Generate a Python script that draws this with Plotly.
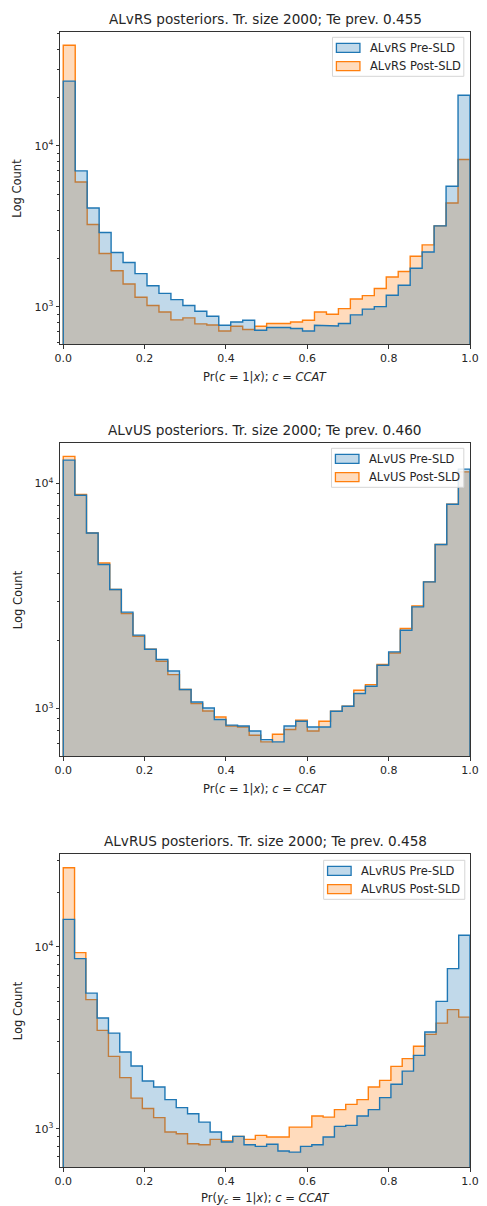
import plotly.graph_objects as go

# ---------------- data ----------------
titles = ["ALvRS posteriors. Tr. size 2000; Te prev. 0.455",
          "ALvUS posteriors. Tr. size 2000; Te prev. 0.460",
          "ALvRUS posteriors. Tr. size 2000; Te prev. 0.458"]
names = ["ALvRS", "ALvUS", "ALvRUS"]
xlabels = ["Pr(<i>c</i> = 1|<i>x</i>); <i>c</i> = <i>CCAT</i>",
           "Pr(<i>c</i> = 1|<i>x</i>); <i>c</i> = <i>CCAT</i>",
           "Pr(<i>y<sub>c</sub></i> = 1|<i>x</i>); <i>c</i> = <i>CCAT</i>"]

rs_pre = [25300, 7000, 4120, 2900, 2180, 1890, 1610, 1355, 1215, 1111, 1020, 940, 875, 769,
          807, 827, 716, 745, 745, 734, 709, 769, 762, 790, 893, 970, 1005, 1182, 1364, 1740,
          2197, 3190, 5620, 20650]
rs_post = [42200, 5970, 3250, 2147, 1680, 1390, 1150, 1020, 931, 831, 855, 785, 773, 709,
           759, 724, 759, 789, 789, 807, 827, 931, 901, 977, 1120, 1176, 1301, 1535, 1660, 2065,
           2430, 3190, 4425, 8240]

us_pre = [12700, 8870, 6030, 4365, 3383, 2684, 2120, 1835, 1652, 1469, 1215, 1070, 1006, 894,
          844, 837, 795, 728, 711, 837, 878, 828, 828, 973, 1024, 1166, 1256, 1557, 1786, 2228,
          2830, 3656, 5355, 8090, 11590]
us_post = [13200, 8930, 6030, 4436, 3383, 2642, 2096, 1835, 1623, 1416, 1215, 1052, 976, 918,
           837, 828, 761, 711, 769, 807, 887, 795, 878, 973, 1024, 1206, 1278, 1569, 1766, 2268,
           2860, 3656, 5355, 8090, 11270]

rus_pre = [14190, 8630, 5570, 4065, 3356, 2642, 2213, 1830, 1695, 1444, 1305, 1209, 1087, 958,
           844, 907, 816, 799, 820, 753, 743, 799, 816, 899, 1030, 1043, 1173, 1273, 1482, 1754,
           2074, 2530, 3403, 5020, 7600, 11590]
rus_post = [27300, 9310, 5130, 3474, 2500, 1910, 1472, 1290, 1150, 958, 938, 826, 816, 873,
            855, 907, 873, 919, 899, 899, 1020, 1020, 1173, 1158, 1273, 1361, 1444, 1695, 1845, 2203,
            2428, 2839, 3304, 3810, 4520, 4110]

pre_series = [rs_pre, us_pre, rus_pre]
post_series = [rs_post, us_post, rus_post]

x_ticks = [0.0, 0.2, 0.4, 0.6, 0.8, 1.0]
y_major = [1000, 10000]
y_major_text = ["10<sup>3</sup>", "10<sup>4</sup>"]
y_minor = [m * 10 ** e for e in (2, 3, 4) for m in range(2, 10)]
y_ranges_log = [(2.768, 4.708), (2.788, 4.180), (2.789, 4.510)]

# ---------------- layout geometry (pixels) ----------------
W, H = 487, 1206
L, R = 60, 8.7
T, B = 31.7, 39.3
plot_px = [(31.7, 344.0), (442.7, 756.0), (854.0, 1166.7)]
title_px = [19.0, 430.0, 840.7]
xlabel_off = [33.0, 33.0, 31.0]
# legend boxes: (left, top, right, bottom)
legend_px = [(338, 37, 472, 76), (337, 448, 472, 487), (329, 860, 473, 899)]
PH = H - T - B
PW = W - L - R


def py(p):
    return (H - B - p) / PH


def px(p):
    return (p - L) / PW


BLUE = "#1f77b4"
ORANGE = "#ff7f0e"
ALPHA = 0.28
FONT = "DejaVu Sans"
AX = "#333333"
TXT = "#262626"
TICK_SIZE = 11
LABEL_SIZE = 11.5
TITLE_SIZE = 13.6


def step_path(counts):
    n = len(counts)
    edges = [i / n for i in range(n + 1)]
    xs, ys = [edges[0]], [1]
    for i, c in enumerate(counts):
        xs += [edges[i], edges[i + 1]]
        ys += [c, c]
    xs.append(edges[-1])
    ys.append(1)
    return xs, ys


def rgba(hexc, a):
    h = hexc.lstrip("#")
    r, g, b = int(h[0:2], 16), int(h[2:4], 16), int(h[4:6], 16)
    return f"rgba({r},{g},{b},{a})"


fig = go.Figure()
annotations = []
shapes = []
for k in range(3):
    xa = "x" if k == 0 else f"x{k+1}"
    ya = "y" if k == 0 else f"y{k+1}"
    # orange drawn first, blue on top
    for counts, col, label in ((post_series[k], ORANGE, f"{names[k]} Post-SLD"),
                               (pre_series[k], BLUE, f"{names[k]} Pre-SLD")):
        xs, ys = step_path(counts)
        fig.add_trace(go.Scatter(x=xs, y=ys, mode="lines", fill="toself",
                                 fillcolor=rgba(col, ALPHA),
                                 line=dict(color=col, width=1.4),
                                 name=label, showlegend=False,
                                 xaxis=xa, yaxis=ya, hoverinfo="skip"))
    top, bot = plot_px[k]
    dom = [py(bot), py(top)]
    xkey = "xaxis" if k == 0 else f"xaxis{k+1}"
    ykey = "yaxis" if k == 0 else f"yaxis{k+1}"
    fig.layout[xkey] = dict(domain=[0, 1], anchor=ya, range=[-0.008, 1.0],
                            tickvals=x_ticks, ticktext=[f"{v:.1f}" for v in x_ticks],
                            ticks="outside", ticklen=3.5, tickwidth=0.8, tickcolor=AX,
                            showline=True, mirror=True, linecolor=AX, linewidth=1,
                            showgrid=False, zeroline=False,
                            tickfont=dict(family=FONT, size=TICK_SIZE, color=TXT))
    fig.layout[ykey] = dict(domain=dom, anchor=xa, type="log",
                            range=list(y_ranges_log[k]),
                            tickmode="array", tickvals=y_major, ticktext=y_major_text,
                            ticks="outside", ticklen=3.5, tickwidth=0.8, tickcolor=AX,
                            minor=dict(tickmode="array", tickvals=y_minor, ticks="outside",
                                       ticklen=2, tickwidth=0.6, tickcolor=AX, showgrid=False),
                            showline=True, mirror=True, linecolor=AX, linewidth=1,
                            showgrid=False, zeroline=False,
                            tickfont=dict(family=FONT, size=TICK_SIZE, color=TXT))
    annotations.append(dict(text=titles[k], x=0.5, y=py(title_px[k]), xref="paper",
                            yref="paper", xanchor="center", yanchor="middle",
                            showarrow=False, font=dict(family=FONT, size=TITLE_SIZE, color=TXT)))
    annotations.append(dict(text=xlabels[k], x=0.5, y=py(bot + xlabel_off[k]), xref="paper",
                            yref="paper", xanchor="center", yanchor="middle",
                            showarrow=False, font=dict(family=FONT, size=LABEL_SIZE, color=TXT)))
    annotations.append(dict(text="Log Count", x=px(16.7), y=py((top + bot) / 2), xref="paper",
                            yref="paper", xanchor="center", yanchor="middle", textangle=-90,
                            showarrow=False, font=dict(family=FONT, size=LABEL_SIZE, color=TXT)))

    # legend box (drawn as shapes + text)
    lx0, ly0, lx1, ly1 = legend_px[k]
    shapes.append(dict(type="rect", xref="paper", yref="paper",
                       x0=px(lx0), x1=px(lx1), y0=py(ly1), y1=py(ly0),
                       fillcolor="rgba(255,255,255,0.85)", line=dict(color="#d5d5d5", width=1)))
    for j, (col, label) in enumerate(((BLUE, f"{names[k]} Pre-SLD"),
                                      (ORANGE, f"{names[k]} Post-SLD"))):
        cy = ly0 + 10.5 + j * 18.3
        shapes.append(dict(type="rect", xref="paper", yref="paper",
                           x0=px(lx0 + 4), x1=px(lx0 + 28), y0=py(cy + 4.5), y1=py(cy - 4.5),
                           fillcolor=rgba(col, ALPHA), line=dict(color=col, width=1.3)))
        annotations.append(dict(text=label, x=px(lx0 + 36), y=py(cy), xref="paper",
                                yref="paper", xanchor="left", yanchor="middle",
                                showarrow=False, font=dict(family=FONT, size=LABEL_SIZE, color=TXT)))

fig.update_layout(
    width=W, height=H,
    margin=dict(l=L, r=R, t=T, b=B),
    paper_bgcolor="white", plot_bgcolor="white",
    showlegend=False,
    annotations=annotations,
    shapes=shapes,
    font=dict(family=FONT),
)

fig.write_html("out.html", config={"displayModeBar": False},
               post_script="document.body.style.margin='0';document.body.style.overflow='hidden';")
